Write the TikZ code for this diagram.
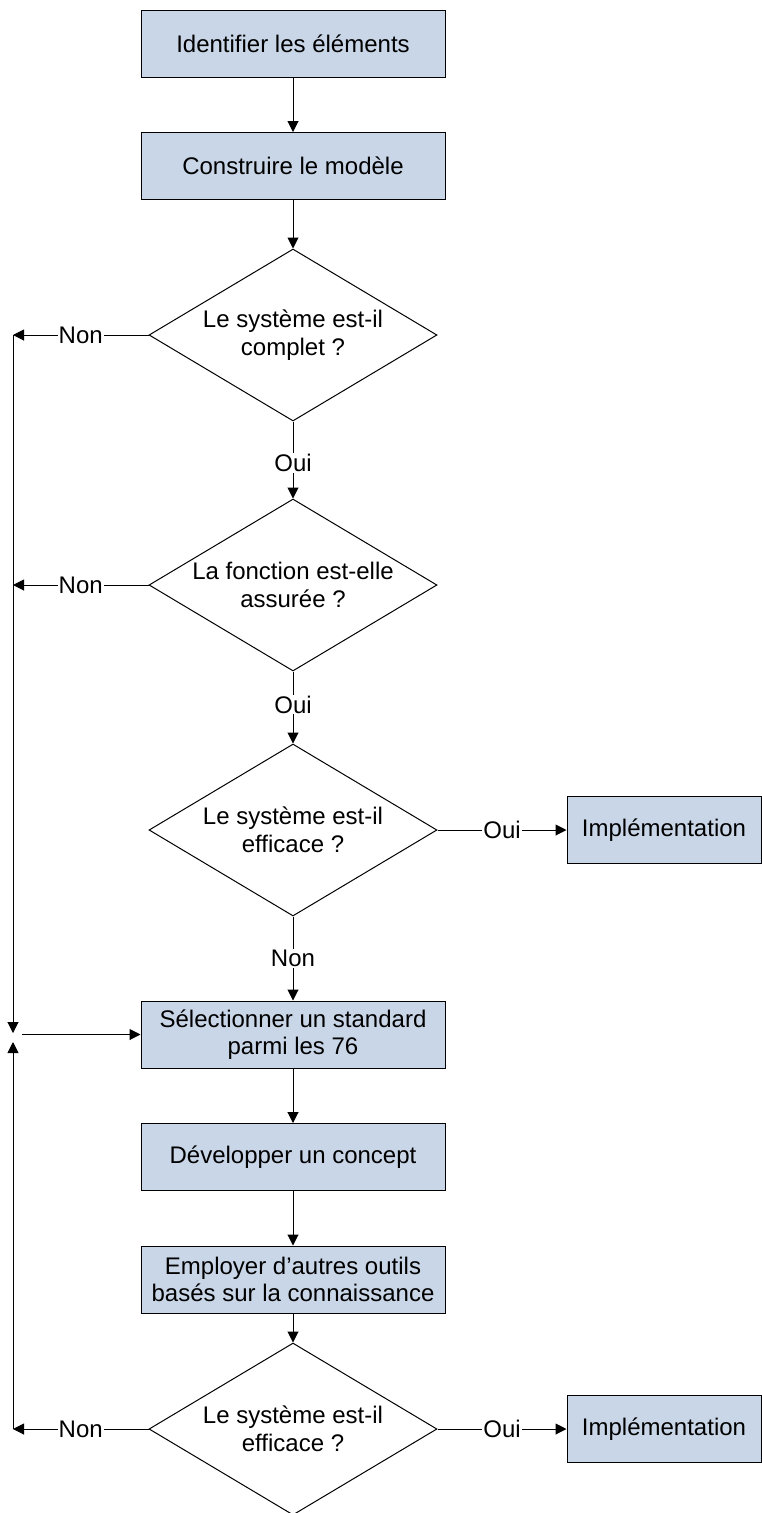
\documentclass[tikz,border=0pt]{standalone}
\usepackage{fontspec}
\setmainfont{Liberation Sans}
\usetikzlibrary{shapes.geometric,arrows.meta}
\definecolor{boxfill}{RGB}{201,214,231}
\begin{document}
\begin{tikzpicture}[x=1pt,y=-1pt,
 every node/.style={font=\fontsize{24}{27.6}\selectfont},
 procbox/.style={draw, fill=boxfill, line width=1pt, minimum width=304pt, minimum height=67pt, align=center, inner sep=0pt},
 implbox/.style={draw, fill=boxfill, line width=1pt, minimum width=194pt, minimum height=67pt, align=center, inner sep=0pt},
 decision/.style={draw, diamond, aspect=1.67, line width=1pt, minimum width=288pt, minimum height=172pt, align=center, inner sep=0pt},
 conn/.style={line width=1pt, -{Triangle[length=11pt,width=11pt]}},
 lbl/.style={fill=white, inner sep=1pt}]
\useasboundingbox (0,0) rectangle (762,1513);
\node[procbox] (b1) at (293,43.5) {Identifier les éléments};
\node[procbox] (b2) at (293,166) {Construire le modèle};
\node[decision] (d1) at (293,335) {Le système est-il\\complet ?};
\node[decision] (d2) at (293,585) {La fonction est-elle\\assurée ?};
\node[decision] (d3) at (293,830) {Le système est-il\\efficace ?};
\node[implbox] (i1) at (664,830) {Implémentation};
\node[procbox] (b3) at (293,1034.5) {Sélectionner un standard\\parmi les 76};
\node[procbox] (b4) at (293,1157) {Développer un concept};
\node[procbox] (b5) at (293,1279.5) {Employer d’autres outils\\basés sur la connaissance};
\node[decision] (d4) at (293,1429) {Le système est-il\\efficace ?};
\node[implbox] (i2) at (664,1429) {Implémentation};
\coordinate (n1) at (13,335);
\coordinate (n2) at (13,585);
\coordinate (n4) at (13,1429);
\coordinate (jt) at (13,1033);
\coordinate (jb) at (13,1042);
\coordinate (js) at (22,1034.5);
\draw[conn] (b1) -- (b2);
\draw[conn] (b2) -- (d1);
\draw[conn] (d1) -- node[lbl, pos=0.54]{Oui} (d2);
\draw[conn] (d2) -- node[lbl, pos=0.46]{Oui} (d3);
\draw[conn] (d3) -- node[lbl]{Non} (b3);
\draw[conn] (d3.east) -- node[lbl]{Oui} (i1.west);
\draw[conn] (b3) -- (b4);
\draw[conn] (b4) -- (b5);
\draw[conn] (b5) -- (d4);
\draw[conn] (d4.east) -- node[lbl]{Oui} (i2.west);
\draw[conn] (d1.west) -- node[lbl]{Non} (n1);
\draw[conn] (d2.west) -- node[lbl]{Non} (n2);
\draw[conn] (d4.west) -- node[lbl]{Non} (n4);
\draw[conn] (n1) -- (jt);
\draw[conn] (n4) -- (jb);
\draw[conn] (js) -- (b3.west);
\end{tikzpicture}
\end{document}
